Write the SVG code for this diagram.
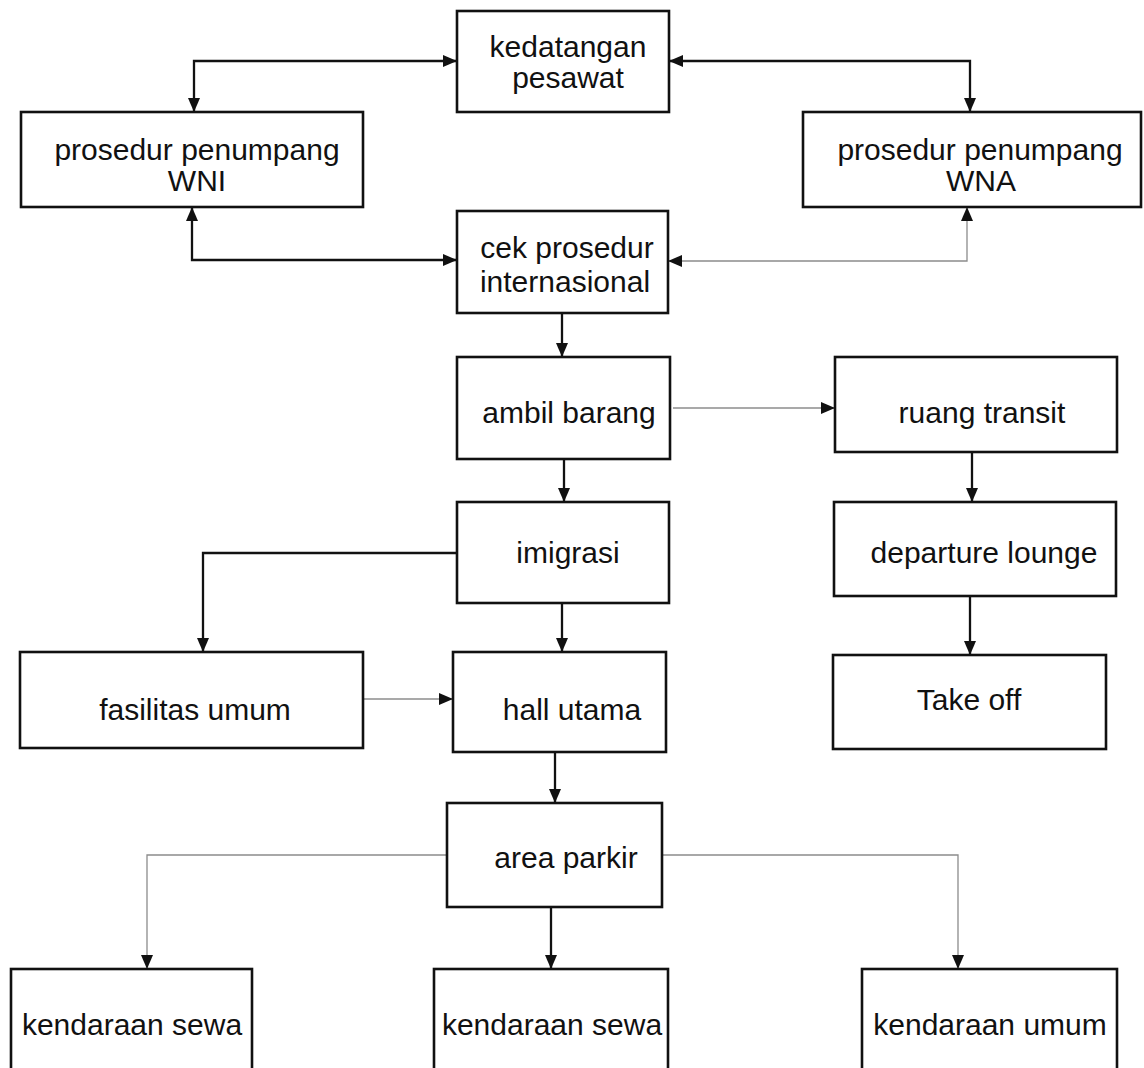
<svg xmlns="http://www.w3.org/2000/svg" width="1144" height="1068" viewBox="0 0 1144 1068">
  <style>
    .box { fill: #ffffff; stroke: #111111; stroke-width: 2.6; }
    .lbl { font-family: "Liberation Sans", Arial, sans-serif; font-size: 30px; fill: #111111; text-anchor: middle; }
    .solid { fill: none; stroke: #111111; stroke-width: 2.3; marker-end: url(#arrow); }
    .faint { fill: none; stroke: #8c8c8c; stroke-width: 1.3; marker-end: url(#arrow); }
    .both { marker-start: url(#arrow); }
  </style>
  <defs>
    <marker id="arrow" viewBox="0 0 14 12" markerUnits="userSpaceOnUse" markerWidth="14" markerHeight="12" refX="14" refY="6" orient="auto-start-reverse">
      <path d="M0,0 L14,6 L0,12 z" fill="#111111"/>
    </marker>
  </defs>
  <rect width="1144" height="1068" fill="#ffffff"/>

  <!-- connectors -->
  <g id="connectors">
    <path class="solid both" d="M457,61 H194 V112"/>
    <path class="solid both" d="M669,61 H970 V112"/>
    <path class="solid both" d="M192,207 V260 H457"/>
    <path class="faint both" d="M967,207 V261 H668"/>
    <path class="solid" d="M562,313 V357"/>
    <path class="faint" d="M673,408 H835"/>
    <path class="solid" d="M564,459 V502"/>
    <path class="solid" d="M972,452 V502"/>
    <path class="solid" d="M970,596 V655"/>
    <path class="solid" d="M457,553 H203 V652"/>
    <path class="solid" d="M562,603 V652"/>
    <path class="faint" d="M363,699 H453"/>
    <path class="solid" d="M555,752 V803"/>
    <path class="faint" d="M447,855 H147 V969"/>
    <path class="solid" d="M551,907 V969"/>
    <path class="faint" d="M662,855 H958 V969"/>
  </g>

  <!-- nodes -->
  <g id="kedatangan">
    <rect class="box" x="457" y="11" width="212" height="101"/>
    <text class="lbl" x="568" y="57">kedatangan</text>
    <text class="lbl" x="568" y="88">pesawat</text>
  </g>
  <g id="prosedur-wni">
    <rect class="box" x="21" y="112" width="342" height="95"/>
    <text class="lbl" x="197" y="160">prosedur penumpang</text>
    <text class="lbl" x="197" y="191">WNI</text>
  </g>
  <g id="prosedur-wna">
    <rect class="box" x="803" y="112" width="338" height="95"/>
    <text class="lbl" x="980" y="160">prosedur penumpang</text>
    <text class="lbl" x="981" y="191">WNA</text>
  </g>
  <g id="cek-prosedur">
    <rect class="box" x="457" y="211" width="211" height="102"/>
    <text class="lbl" x="567" y="258">cek prosedur</text>
    <text class="lbl" x="565" y="292">internasional</text>
  </g>
  <g id="ambil-barang">
    <rect class="box" x="457" y="357" width="213" height="102"/>
    <text class="lbl" x="569" y="423">ambil barang</text>
  </g>
  <g id="ruang-transit">
    <rect class="box" x="835" y="357" width="282" height="95"/>
    <text class="lbl" x="982" y="423">ruang transit</text>
  </g>
  <g id="imigrasi">
    <rect class="box" x="457" y="502" width="212" height="101"/>
    <text class="lbl" x="568" y="563">imigrasi</text>
  </g>
  <g id="departure-lounge">
    <rect class="box" x="834" y="502" width="282" height="94"/>
    <text class="lbl" x="984" y="563">departure lounge</text>
  </g>
  <g id="take-off">
    <rect class="box" x="833" y="655" width="273" height="94"/>
    <text class="lbl" x="969" y="710">Take off</text>
  </g>
  <g id="fasilitas-umum">
    <rect class="box" x="20" y="652" width="343" height="96"/>
    <text class="lbl" x="195" y="720">fasilitas umum</text>
  </g>
  <g id="hall-utama">
    <rect class="box" x="453" y="652" width="213" height="100"/>
    <text class="lbl" x="572" y="720">hall utama</text>
  </g>
  <g id="area-parkir">
    <rect class="box" x="447" y="803" width="215" height="104"/>
    <text class="lbl" x="566" y="868">area parkir</text>
  </g>
  <g id="kendaraan-sewa-1">
    <rect class="box" x="11" y="969" width="241" height="110"/>
    <text class="lbl" x="132" y="1035">kendaraan sewa</text>
  </g>
  <g id="kendaraan-sewa-2">
    <rect class="box" x="434" y="969" width="234" height="110"/>
    <text class="lbl" x="552" y="1035">kendaraan sewa</text>
  </g>
  <g id="kendaraan-umum">
    <rect class="box" x="862" y="969" width="255" height="110"/>
    <text class="lbl" x="990" y="1035">kendaraan umum</text>
  </g>
</svg>
